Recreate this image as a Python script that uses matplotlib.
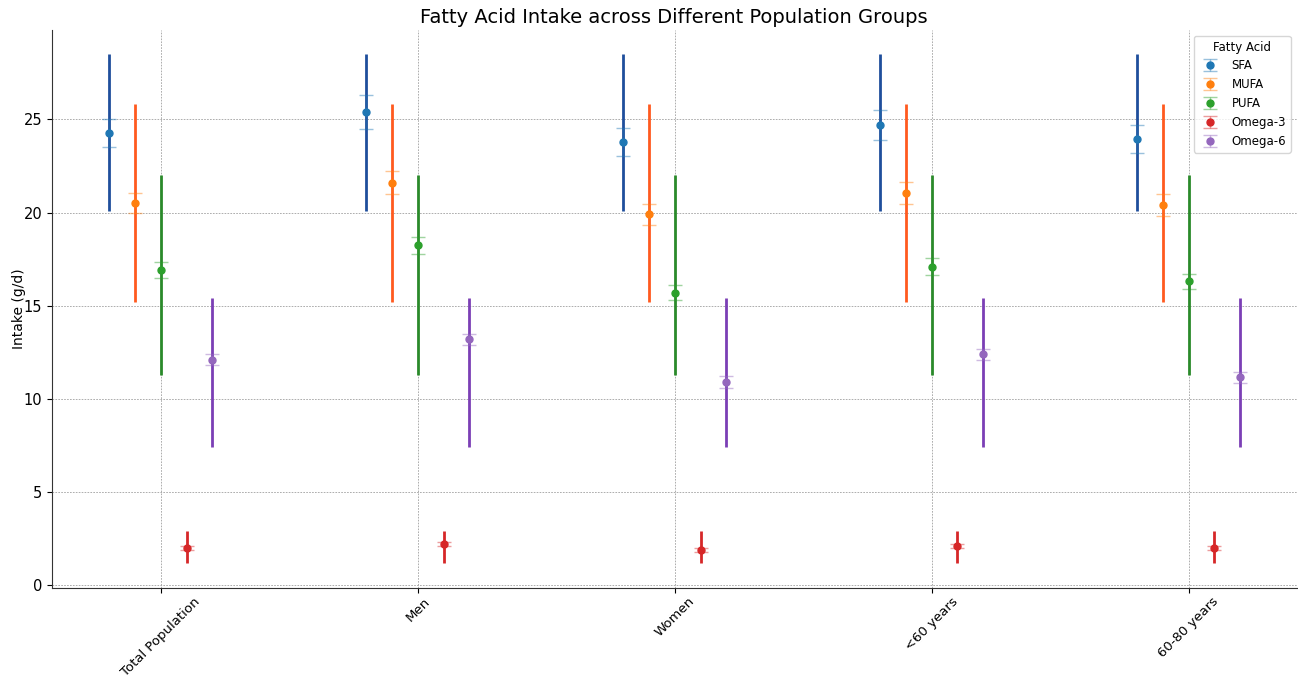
import numpy as np
import matplotlib.pyplot as plt

# Data
groups = ["Total Population", "Men", "Women", "<60 years", "60-80 years"]
acids = ["SFA", "MUFA", "PUFA", "Omega-3", "Omega-6"]

sfa = [24.25, 25.4, 23.8, 24.7, 23.95]
mufa = [20.5, 21.6, 19.9, 21.05, 20.4]
pufa = [16.9, 18.25, 15.7, 17.1, 16.3]
omega3 = [2.0, 2.2, 1.9, 2.1, 2.0]
omega6 = [12.1, 13.2, 10.9, 12.4, 11.15]

sfa_err = [0.75, 0.9, 0.75, 0.8, 0.75]
mufa_err = [0.55, 0.63, 0.55, 0.6, 0.6]
pufa_err = [0.43, 0.45, 0.4, 0.45, 0.4]
omega3_err = [0.1, 0.1, 0.1, 0.1, 0.1]
omega6_err = [0.3, 0.3, 0.3, 0.3, 0.3]

# reference intake ranges (low, high)
ranges = [(20.1, 28.5), (15.2, 25.8), (11.3, 22.0), (1.2, 2.9), (7.4, 15.4)]

means = [sfa, mufa, pufa, omega3, omega6]
errs = [sfa_err, mufa_err, pufa_err, omega3_err, omega6_err]
colors = ["#1f77b4", "#ff7f0e", "#2ca02c", "#d62728", "#9467bd"]
range_colors = ["#1f4e9c", "#ff5a1f", "#2a8a2a", "#d62728", "#7b3fb5"]

fig = plt.figure(figsize=(12.98, 6.79), dpi=100)
ax = fig.add_axes([0.040, 0.134, 0.959, 0.822])

x = np.arange(len(groups))
width = 0.1
for i, acid in enumerate(acids):
    pos = x + (i - 2) * width
    ax.vlines(pos, ranges[i][0], ranges[i][1], colors=range_colors[i], linewidth=2, zorder=2)
    line, caps, bars = ax.errorbar(pos, means[i], yerr=errs[i], fmt="o", color=colors[i],
                                   ecolor=colors[i], elinewidth=1, capsize=5, markersize=5,
                                   label=acid, zorder=3)
    # caps in the original are faint
    for c in caps:
        c.set_alpha(0.45)
    for b in bars:
        b.set_alpha(0.45)

ax.set_xticks(x)
ax.set_xticklabels(groups, rotation=45, fontsize=9.5)
ax.tick_params(axis="x", pad=1.5)
ax.tick_params(axis="y", labelsize=10.5)
ax.set_xlim(-0.424, 4.42)
ax.set_ylim(-0.15, 29.8)
ax.set_ylabel("Intake (g/d)", fontsize=10)
ax.yaxis.set_label_coords(-0.021, 0.5)
ax.set_title("Fatty Acid Intake across Different Population Groups", fontsize=14, pad=5)
ax.grid(True, linestyle=(0, (2, 1.5)), linewidth=0.6, color="#a0a0a0")
ax.set_axisbelow(True)
ax.spines["top"].set_visible(False)
ax.spines["right"].set_visible(False)
ax.spines["left"].set_color("#333333")
ax.spines["bottom"].set_color("#333333")
ax.legend(title="Fatty Acid", loc="upper right", fontsize=8.5, title_fontsize=8.5)

plt.savefig("out.png")
